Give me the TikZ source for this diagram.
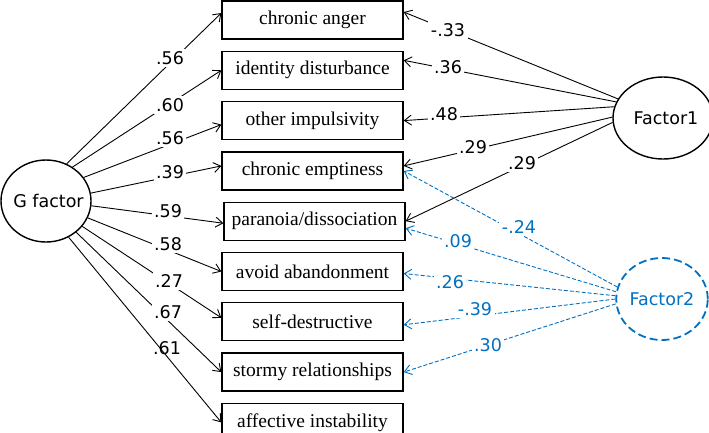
\documentclass[tikz,border=0pt]{standalone}
\usepackage{fontspec}
\setmainfont{Liberation Serif}
\newfontfamily\dejavu{DejaVu Sans}
\usetikzlibrary{arrows.meta,positioning,shapes.geometric}
\definecolor{fblue}{RGB}{0,112,192}

\begin{document}
\begin{tikzpicture}[x=1pt, y=-1pt, node distance=11pt, item/.style={draw, line width=1.3pt, minimum width=181pt, minimum height=38pt, inner sep=0pt, font=\fontsize{19.5}{19.5}\selectfont}, factor/.style={draw, ellipse, line width=1.4pt, minimum width=90pt, minimum height=82pt, inner sep=0pt, font=\dejavu\fontsize{17.5}{17.5}\selectfont}, arr/.style={line width=0.9pt, -{Straight Barb[length=7pt,width=10pt]}}, barr/.style={arr, fblue, dash pattern=on 4pt off 2pt}, lbl/.style={fill=white, inner sep=2.5pt, font=\dejavu\fontsize{17.5}{17.5}\selectfont}, blbl/.style={lbl, text=fblue}]
\useasboundingbox (0,0) rectangle (709,432);
\node[item] (ca) at (312.5,20) {chronic anger};
\node[item, below=of ca] (id) {identity disturbance};
\node[item, below=of id] (oi) {other impulsivity};
\node[item, below=of oi] (ce) {chronic emptiness};
\node[item, below=of ce, xshift=2pt] (pd) {paranoia/dissociation};
\node[item, below=of pd, xshift=-2pt] (aa) {avoid abandonment};
\node[item, below=of aa] (sd) {self-destructive};
\node[item, below=of sd] (sr) {stormy relationships};
\node[item, below=of sr] (ai) {affective instability};
\node[factor] (gf) at (46,201) {\makebox[0pt]{\hspace{5pt}G factor}};
\node[factor] (f1) at (663,118) {\hspace{6pt}Factor1};
\node[factor, fblue, text=fblue, line width=1.8pt, dash pattern=on 8pt off 4pt] (f2) at (662,299) {Factor2};
\draw[arr] (gf.61) -- ([yshift=7pt]ca.west); \draw[arr] (gf.52) -- (id.west); \draw[arr] (gf.32) -- ([yshift=-4pt]oi.west); \draw[arr] (gf.10) -- ([yshift=5pt]ce.west); \draw[arr] (gf.-6) -- ([yshift=-2pt]pd.west); \draw[arr] (gf.-22) -- (aa.west); \draw[arr] (gf.-35) -- ([yshift=4pt]sd.west); \draw[arr] (gf.-46) -- (sr.west); \draw[arr] (gf.-58) -- (ai.west);
\draw[arr] (f1.157) -- ([yshift=8pt]ca.east); \draw[arr] (f1.161) -- ([yshift=10pt]id.east); \draw[arr] (f1.167) -- (oi.east); \draw[arr] (f1.179) -- ([yshift=5pt]ce.east); \draw[arr] (f1.185) -- (pd.east);
\draw[barr] (f2.165) -- (ce.east); \draw[barr] (f2.171) -- ([yshift=-7pt]pd.east); \draw[barr] (f2.176) -- ([yshift=-2pt]aa.east); \draw[barr] (f2.180) -- ([yshift=-3pt]sd.east); \draw[barr] (f2.186) -- (sr.east);
\node[lbl] (g1) at (170,58) {.56};
\node[lbl] (g2) at (170,105) {.60};
\node[lbl] (g3) at (170,138) {.56};
\node[lbl] (g4) at (170,172) {.39};
\node[lbl] (g5) at (168,211) {.59};
\node[lbl] (g6) at (168,244) {.58};
\node[lbl] (g7) at (169,281) {.27};
\node[lbl] (g8) at (168,312) {.67};
\node[lbl, fill=none] (g9) at (167,348) {.61};
\node[lbl] (a1) at (448,30) {-.33};
\node[lbl] (a2) at (448,67) {.36};
\node[lbl] (a3) at (444,114) {.48};
\node[lbl] (a4) at (473,147) {.29};
\node[lbl] (a5) at (522,163) {.29};
\node[blbl] (b1) at (519,227) {-.24};
\node[blbl] (b2) at (458,241) {.09};
\node[blbl] (b3) at (450,282) {.26};
\node[blbl] (b4) at (475,309) {-.39};
\node[blbl] (b5) at (488,345) {.30};
\end{tikzpicture}
\end{document}
